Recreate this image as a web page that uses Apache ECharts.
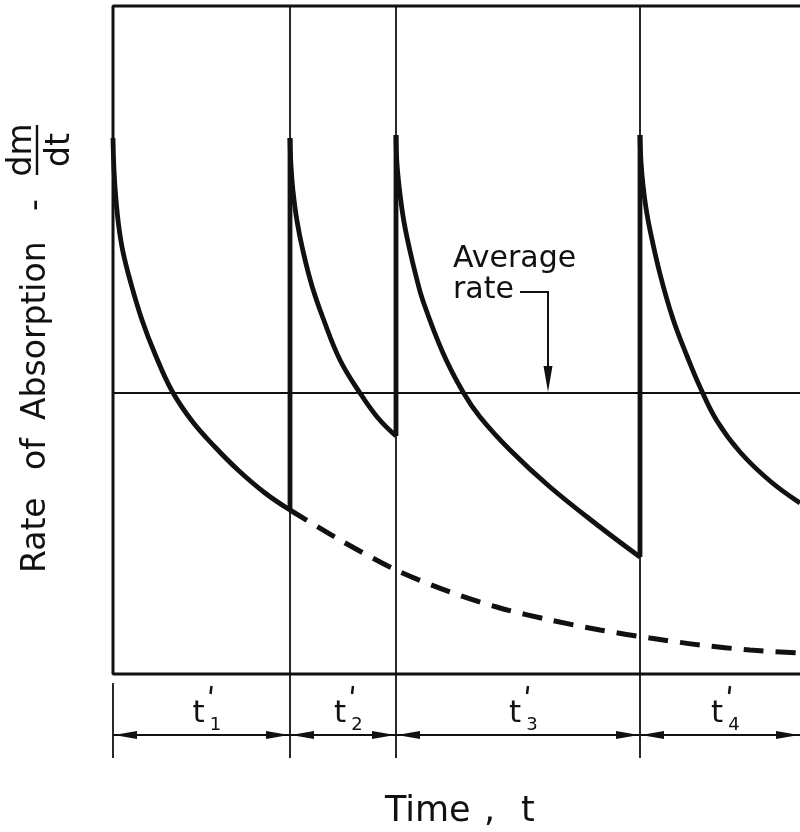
<!DOCTYPE html>
<html>
<head>
<meta charset="utf-8">
<script src="https://cdn.jsdelivr.net/npm/echarts@6/dist/echarts.min.js"></script>
<style>html,body{margin:0;background:#fff}#chart{width:800px;height:832px}</style>
</head>
<body>
<div id="chart"></div>
<script>
// time and rate in arbitrary drawing units (no scale on the original figure)
var X_MAX = 68.7, Y_MIN = -8.4, Y_MAX = 66.9;
var FRAME_TOP = 66.8;
var periodStarts = [0, 17.7, 28.3, 52.7];
var periodEnds = [17.7, 28.3, 52.7, 68.7];
var periodLabels = ['1', '2', '3', '4'];
var averageRate = 28.1;

// rate after each fresh exposure of the surface
var decay1 = [[0, 53.6], [0.1, 50.4], [0.3, 47.4], [0.6, 44.6], [1.0, 42.2], [1.7, 39.4], [2.9, 35.4], [4.2, 32.0], [5.9, 28.3], [7.9, 25.3], [10.2, 22.7], [12.5, 20.4], [15.2, 18.1], [17.7, 16.4]];
var decay2 = [[17.7, 53.6], [17.8, 50.8], [18.0, 48.3], [18.4, 45.3], [19.0, 42.3], [19.9, 38.8], [21.0, 35.6], [22.7, 31.4], [24.7, 28.1], [26.5, 25.6], [28.3, 23.8]];
var decay3 = [[28.3, 53.9], [28.4, 51.0], [28.7, 48.0], [29.1, 45.2], [29.7, 42.3], [30.3, 39.8], [31.0, 37.3], [33.0, 32.1], [35.0, 28.2], [36.7, 25.7], [39.7, 22.4], [43.7, 18.7], [48.7, 14.7], [52.7, 11.7]];
var decay4 = [[52.7, 53.9], [52.8, 51.2], [53.0, 48.9], [53.3, 46.6], [53.7, 44.4], [54.7, 40.0], [56.0, 35.5], [57.4, 31.8], [58.7, 28.7], [60.4, 25.3], [62.7, 22.2], [65.7, 19.3], [68.7, 17.1]];
// surface left undisturbed
var undisturbed = [[17.7, 16.4], [22.7, 13.4], [28.3, 10.4], [33.7, 8.2], [38.7, 6.6], [43.7, 5.4], [48.7, 4.4], [53.7, 3.6], [58.7, 2.9], [63.7, 2.4], [68.7, 2.1]];
// renewal jumps: [time, rate before, rate after]
var jumps = [[17.7, 16.4, 53.6], [28.3, 23.8, 53.9], [52.7, 11.7, 53.9]];
var leader = [[40.7, 38.2], [43.5, 38.2], [43.5, 28.1]];
var DIM_Y = -6.1, EXT_TOP = -0.9;

var INK = '#111';
var FONT = 'DejaVu Sans';

function renderDim(params, api) {
  var a = api.coord([api.value(0), DIM_Y]);
  var b = api.coord([api.value(1), DIM_Y]);
  var y = a[1], L = 24, W = 4;
  var mid = (a[0] + b[0]) / 2;
  var lbl = periodLabels[api.value(2)];
  return {
    type: 'group',
    children: [
      { type: 'line', shape: { x1: a[0], y1: y, x2: b[0], y2: y }, style: { stroke: INK, lineWidth: 1.8 } },
      { type: 'polygon', shape: { points: [[a[0] + 1, y], [a[0] + L, y - W], [a[0] + L, y + W]] }, style: { fill: INK } },
      { type: 'polygon', shape: { points: [[b[0] - 1, y], [b[0] - L, y - W], [b[0] - L, y + W]] }, style: { fill: INK } },
      { type: 'text', style: { text: 't', x: mid - 3, y: y - 21, font: '31px ' + FONT, fill: INK, align: 'center', verticalAlign: 'middle' } },
      { type: 'line', shape: { x1: mid + 10, y1: y - 49, x2: mid + 9, y2: y - 41 }, style: { stroke: INK, lineWidth: 2.4 } },
      { type: 'text', style: { text: lbl, x: mid + 14, y: y - 10, font: '18px ' + FONT, fill: INK, align: 'center', verticalAlign: 'middle' } }
    ]
  };
}

function renderLeader(params, api) {
  var pts = leader.map(function (p) { return api.coord(p); });
  var tip = pts[pts.length - 1];
  var line = pts.slice(0, -1).concat([[tip[0], tip[1] - 22]]);
  return {
    type: 'group',
    children: [
      { type: 'polyline', shape: { points: line }, style: { stroke: INK, lineWidth: 2, fill: null } },
      { type: 'polygon', shape: { points: [[tip[0], tip[1] - 1], [tip[0] - 4.5, tip[1] - 27], [tip[0] + 4.5, tip[1] - 27]] }, style: { fill: INK } }
    ]
  };
}

function curve(data) {
  return {
    type: 'line', data: data, smooth: 0.4, showSymbol: false, silent: true, z: 5,
    lineStyle: { color: INK, width: 4.8 }
  };
}

var series = [
  {
    // frame: bottom axis, left axis, top border
    type: 'line', data: [[X_MAX, 0], [0, 0], [0, FRAME_TOP], [X_MAX, FRAME_TOP]],
    showSymbol: false, silent: true, lineStyle: { color: INK, width: 3 },
    markLine: {
      silent: true, symbol: 'none', label: { show: false },
      data: periodStarts.slice(1).map(function (t) {
        return { xAxis: t, lineStyle: { color: INK, width: 1.8, type: 'solid' } };
      }).concat([{ yAxis: averageRate, lineStyle: { color: INK, width: 2.2, type: 'solid' } }])
    }
  },
  {
    type: 'line', data: [[0, EXT_TOP], [0, Y_MIN]], showSymbol: false, silent: true,
    lineStyle: { color: INK, width: 1.8 }
  },
  curve(decay1), curve(decay2), curve(decay3), curve(decay4)
];

jumps.forEach(function (j) {
  series.push({
    type: 'line', data: [[j[0], j[1]], [j[0], j[2]]], showSymbol: false, silent: true, z: 5,
    lineStyle: { color: INK, width: 4.8 }
  });
});

series.push({
  type: 'line', data: undisturbed, smooth: 0.3, showSymbol: false, silent: true, z: 5,
  lineStyle: { color: INK, width: 5, type: [20, 12], cap: 'butt' }
});

series.push({
  type: 'custom', renderItem: renderDim, silent: true,
  data: periodStarts.map(function (t, i) { return [t, periodEnds[i], i]; })
});

series.push({
  type: 'custom', renderItem: renderLeader, silent: true,
  data: [leader[leader.length - 1]]
});

var chart = echarts.init(document.getElementById('chart'), null, { renderer: 'canvas' });
chart.setOption({
  animation: false,
  backgroundColor: '#fff',
  grid: { left: 113, right: 0, top: 5, bottom: 74 },
  xAxis: { type: 'value', min: 0, max: X_MAX, show: false },
  yAxis: { type: 'value', min: Y_MIN, max: Y_MAX, show: false },
  series: series,
  graphic: [
    {
      type: 'group', x: 36, y: 573, rotation: Math.PI / 2, silent: true,
      children: [
        { type: 'text', x: 0, y: 0, style: { text: 'Rate', font: '33px ' + FONT, fill: INK, align: 'left', verticalAlign: 'middle' } },
        { type: 'text', x: 103, y: 0, style: { text: 'of', font: '33px ' + FONT, fill: INK, align: 'left', verticalAlign: 'middle' } },
        { type: 'text', x: 153, y: 0, style: { text: 'Absorption', font: '33px ' + FONT, fill: INK, align: 'left', verticalAlign: 'middle' } },
        { type: 'text', x: 362, y: 0, style: { text: '-', font: '33px ' + FONT, fill: INK, align: 'left', verticalAlign: 'middle' } },
        { type: 'text', x: 423, y: -14, style: { text: 'dm', font: '33px ' + FONT, fill: INK, align: 'center', verticalAlign: 'middle' } },
        { type: 'line', shape: { x1: 398, y1: 1, x2: 448, y2: 1 }, style: { stroke: INK, lineWidth: 2.4 } },
        { type: 'text', x: 423, y: 24, style: { text: 'dt', font: '33px ' + FONT, fill: INK, align: 'center', verticalAlign: 'middle' } }
      ]
    },
    { type: 'text', x: 453, y: 259, silent: true, style: { text: 'Average', font: '30px ' + FONT, fill: INK, align: 'left', verticalAlign: 'middle' } },
    { type: 'text', x: 453, y: 290, silent: true, style: { text: 'rate', font: '30px ' + FONT, fill: INK, align: 'left', verticalAlign: 'middle' } },
    { type: 'text', x: 385, y: 812, silent: true, style: { text: 'Time', font: '35px ' + FONT, fill: INK, align: 'left', verticalAlign: 'middle' } },
    { type: 'text', x: 484, y: 812, silent: true, style: { text: ',', font: '35px ' + FONT, fill: INK, align: 'left', verticalAlign: 'middle' } },
    { type: 'text', x: 521, y: 812, silent: true, style: { text: 't', font: '35px ' + FONT, fill: INK, align: 'left', verticalAlign: 'middle' } }
  ]
});
</script>
</body>
</html>
